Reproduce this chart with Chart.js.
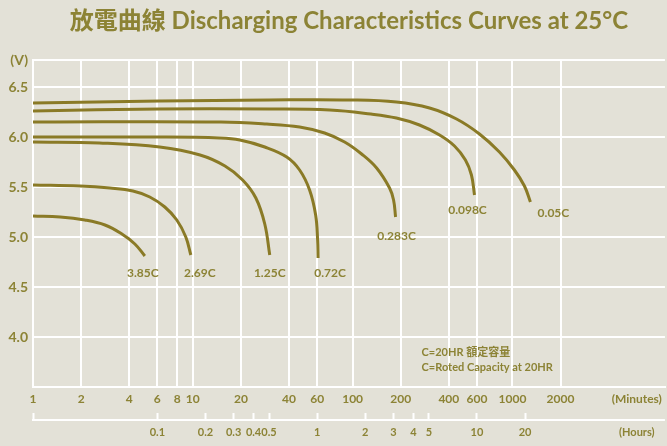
<!DOCTYPE html>
<html>
<head>
<meta charset="utf-8">
<script src="https://cdn.jsdelivr.net/npm/chart.js@4"></script>
<style>
  html, body { margin: 0; padding: 0; background: #e3e1d7; }
  #wrap { width: 667px; height: 446px; }
</style>
</head>
<body>
<div id="wrap"><canvas id="chart" width="667" height="446"></canvas></div>
<script>
// discharge rates, top curve first
const rates = ['0.05C', '0.098C', '0.283C', '0.72C', '1.25C', '2.69C', '3.85C'];

// time in minutes / voltage in V
const t005 = [1, 6.2, 30, 96, 188, 303, 447, 622, 829, 1029, 1189, 1296];
const v005 = [6.34, 6.36, 6.37, 6.37, 6.35, 6.29, 6.18, 6.03, 5.85, 5.67, 5.51, 5.35];
const t0098 = [1, 6.2, 30, 72, 130, 188, 262, 350, 434, 508, 554, 579];
const v0098 = [6.26, 6.28, 6.28, 6.27, 6.23, 6.19, 6.12, 6.02, 5.91, 5.77, 5.62, 5.42];
const t0283 = [1, 15, 29, 46.6, 66.8, 89.1, 113.8, 141.3, 170.3, 180.4, 185.7];
const v0283 = [6.15, 6.15, 6.13, 6.1, 6.04, 5.95, 5.83, 5.69, 5.49, 5.37, 5.2];
const t072 = [1, 6.2, 14.8, 19.7, 28.2, 38.7, 46.6, 53.8, 58.7, 60.4, 60.8];
const v072 = [6.0, 6.0, 5.99, 5.97, 5.9, 5.8, 5.67, 5.47, 5.22, 4.97, 4.79];
const t125 = [1, 2.6, 6.2, 11.1, 15.9, 20.5, 24.8, 28.2, 30.3];
const v125 = [5.95, 5.94, 5.9, 5.82, 5.71, 5.57, 5.39, 5.13, 4.82];
const t269 = [1, 1.97, 3.03, 4.22, 5.38, 6.68, 7.94, 9.04, 9.72];
const v269 = [5.52, 5.51, 5.49, 5.46, 5.4, 5.3, 5.17, 5.0, 4.82];
const t385 = [1, 1.48, 2.11, 2.82, 3.6, 4.34, 5.01];
const v385 = [5.21, 5.2, 5.17, 5.12, 5.03, 4.93, 4.81];

const times = [t005, t0098, t0283, t072, t125, t269, t385];
const volts = [v005, v0098, v0283, v072, v125, v269, v385];

const minuteTicks = [1, 2, 4, 6, 8, 10, 20, 40, 60, 100, 200, 400, 600, 1000, 2000];
const hourTicks = [0.1, 0.2, 0.3, 0.4, 0.5, 1, 2, 3, 4, 5, 10, 20];
const voltTicks = [4.0, 4.5, 5.0, 5.5, 6.0, 6.5];

const noteLines = ['C=20HR 額定容量', 'C=Roted Capacity at 20HR'];

// label nudges from each curve end, px
const labelOffsets = [[23, 11], [-7, 15], [1, 19], [12, 15], [0, 18], [9, 18], [-2, 17]];

const olive = '#8a7a26';
const textColor = '#8c8335';
const family = 'Lato, "Noto Sans CJK TC", sans-serif';
const unitAt = 6000; // minutes, where "(Minutes)" / "(Hours)" sit
const vTop = 6.77;
const vBottom = 3.5;

const datasets = rates.map((r, i) => ({
  label: r,
  data: times[i].map((t, j) => ({ x: t, y: volts[i][j] })),
  borderColor: olive,
  borderWidth: 3,
  pointRadius: 0,
  fill: false,
  tension: 0.4
}));

const extras = {
  id: 'extras',
  afterDatasetsDraw(chart) {
    const { ctx } = chart;
    const x = chart.scales.x;
    const y = chart.scales.y;
    const h = chart.scales.hours;
    ctx.save();
    ctx.fillStyle = textColor;
    ctx.font = 'bold 12px ' + family;
    ctx.textAlign = 'center';
    ctx.textBaseline = 'middle';
    chart.data.datasets.forEach((ds, i) => {
      const last = ds.data[ds.data.length - 1];
      const [dx, dy] = labelOffsets[i];
      ctx.fillText(ds.label, x.getPixelForValue(last.x) + dx, y.getPixelForValue(last.y) + dy);
    });

    ctx.textAlign = 'left';
    ctx.font = 'bold 11px ' + family;
    ctx.fillText(noteLines[0], x.getPixelForValue(270), y.getPixelForValue(3.85));
    ctx.fillText(noteLines[1], x.getPixelForValue(270), y.getPixelForValue(3.70));

    // base line of the hours axis, ticks hang up from it
    ctx.strokeStyle = '#ffffff';
    ctx.lineWidth = 2;
    ctx.beginPath();
    ctx.moveTo(h.left - 1, h.top + 7);
    ctx.lineTo(h.right, h.top + 7);
    ctx.stroke();
    ctx.restore();
  }
};

new Chart(document.getElementById('chart'), {
  type: 'line',
  data: { datasets },
  plugins: [extras],
  options: {
    responsive: false,
    animation: false,
    layout: { padding: 0 },
    plugins: {
      legend: { display: false },
      tooltip: { enabled: false },
      title: {
        display: true,
        fullSize: false,
        text: '放電曲線 Discharging Characteristics Curves at 25°C',
        color: textColor,
        font: { family, size: 24, weight: 'bold', lineHeight: 1.2 },
        padding: { top: 7, bottom: 24.2 }
      }
    },
    scales: {
      x: {
        type: 'logarithmic',
        position: 'bottom',
        weight: 0,
        min: 1,
        max: 9000,
        afterBuildTicks: s => { s.ticks = minuteTicks.concat([unitAt]).map(v => ({ value: v })); },
        afterFit: s => { s.height = 26; },
        ticks: {
          color: textColor,
          font: { family, size: 12, weight: 'bold' },
          padding: 5,
          autoSkip: false,
          maxRotation: 0,
          callback: v => v === unitAt ? '(Minutes)' : String(v)
        },
        grid: {
          color: c => (c.tick && c.tick.value === unitAt) ? 'rgba(0,0,0,0)' : '#ffffff',
          lineWidth: 2,
          drawTicks: false
        },
        border: { color: '#ffffff', width: 2 }
      },
      hours: {
        axis: 'x',
        type: 'logarithmic',
        position: 'bottom',
        weight: 1,
        min: 1 / 60,
        max: 9000 / 60,
        afterBuildTicks: s => { s.ticks = [1 / 60].concat(hourTicks, [unitAt / 60]).map(v => ({ value: v })); },
        afterFit: s => { s.height = 33; },
        ticks: {
          color: textColor,
          font: { family, size: 11, weight: 'bold' },
          padding: 6,
          autoSkip: false,
          maxRotation: 0,
          callback: v => v === unitAt / 60 ? '(Hours)' : (v < 0.05 ? '' : String(v))
        },
        grid: {
          drawOnChartArea: false,
          drawTicks: true,
          tickLength: 7,
          tickWidth: 2,
          tickColor: c => (c.tick && c.tick.value === unitAt / 60) ? 'rgba(0,0,0,0)' : '#ffffff'
        },
        border: { display: false }
      },
      y: {
        type: 'linear',
        min: vBottom,
        max: vTop,
        afterBuildTicks: s => { s.ticks = [vBottom].concat(voltTicks, [vTop]).map(v => ({ value: v })); },
        afterFit: s => { s.width = 33; },
        ticks: {
          color: textColor,
          font: { family, size: 14, weight: 'bold' },
          padding: 5,
          callback: v => v === vTop ? '(V)' : (v === vBottom ? '' : v.toFixed(1))
        },
        grid: { color: '#ffffff', lineWidth: 2, drawTicks: false },
        border: { color: '#ffffff', width: 2 }
      }
    }
  }
});
</script>
</body>
</html>
